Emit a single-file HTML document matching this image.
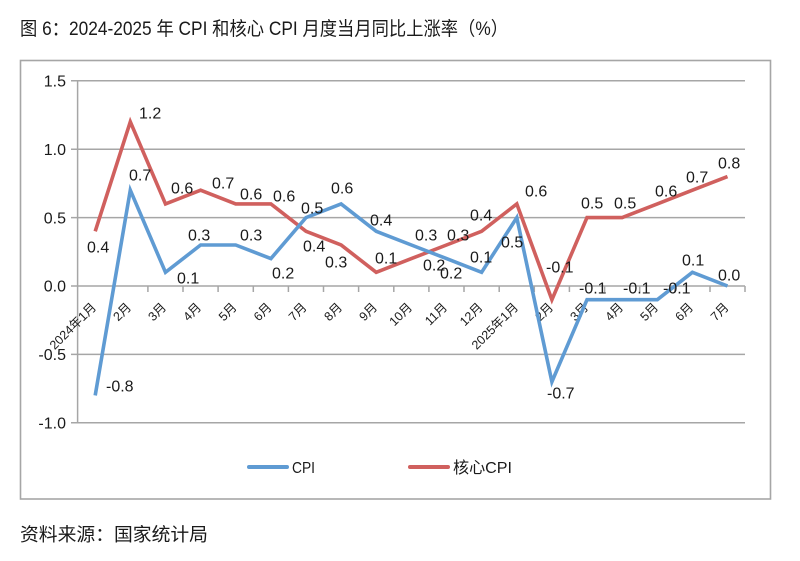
<!DOCTYPE html>
<html><head><meta charset="utf-8"><style>
html,body{margin:0;padding:0;background:#fff;}
svg{display:block;}
text{font-family:"Liberation Sans","Noto Sans CJK SC",sans-serif;fill:#1a1a1a;}
</style></head><body>
<svg width="800" height="561" viewBox="0 0 800 561" xmlns="http://www.w3.org/2000/svg">
<text x="20" y="35" font-size="19" textLength="488" lengthAdjust="spacingAndGlyphs">图 6：2024-2025 年 CPI 和核心 CPI 月度当月同比上涨率（%）</text>
<rect x="20.5" y="60.5" width="750" height="438.5" fill="none" stroke="#a6a6a6" stroke-width="1.6"/>
<g stroke="#a6a6a6" stroke-width="1.5">
<line x1="71" y1="80.8" x2="745" y2="80.8"/>
<line x1="71" y1="149.2" x2="745" y2="149.2"/>
<line x1="71" y1="217.6" x2="745" y2="217.6"/>
<line x1="71" y1="286" x2="745" y2="286"/>
<line x1="71" y1="354.4" x2="745" y2="354.4"/>
<line x1="71" y1="422.8" x2="745" y2="422.8"/>
<line x1="77.6" y1="80.8" x2="77.6" y2="422.8"/>
<line x1="112.7" y1="286" x2="112.7" y2="292"/><line x1="147.9" y1="286" x2="147.9" y2="292"/><line x1="183" y1="286" x2="183" y2="292"/><line x1="218.1" y1="286" x2="218.1" y2="292"/><line x1="253.3" y1="286" x2="253.3" y2="292"/><line x1="288.4" y1="286" x2="288.4" y2="292"/><line x1="323.5" y1="286" x2="323.5" y2="292"/><line x1="358.6" y1="286" x2="358.6" y2="292"/><line x1="393.8" y1="286" x2="393.8" y2="292"/><line x1="428.9" y1="286" x2="428.9" y2="292"/><line x1="464" y1="286" x2="464" y2="292"/><line x1="499.2" y1="286" x2="499.2" y2="292"/><line x1="534.3" y1="286" x2="534.3" y2="292"/><line x1="569.4" y1="286" x2="569.4" y2="292"/><line x1="604.6" y1="286" x2="604.6" y2="292"/><line x1="639.7" y1="286" x2="639.7" y2="292"/><line x1="674.8" y1="286" x2="674.8" y2="292"/><line x1="710" y1="286" x2="710" y2="292"/><line x1="745" y1="286" x2="745" y2="292"/>
</g>
<g font-size="16" text-anchor="end">
<text x="66" y="86.5">1.5</text>
<text x="66" y="154.9">1.0</text>
<text x="66" y="223.3">0.5</text>
<text x="66" y="291.7">0.0</text>
<text x="66" y="360.1">-0.5</text>
<text x="66" y="428.5">-1.0</text>
</g>
<g font-size="12.5" text-anchor="end">
<text transform="translate(97,308) rotate(-45)">2024年1月</text>
<text transform="translate(132,308) rotate(-45)">2月</text>
<text transform="translate(167,308) rotate(-45)">3月</text>
<text transform="translate(202,308) rotate(-45)">4月</text>
<text transform="translate(237.5,308) rotate(-45)">5月</text>
<text transform="translate(272.5,308) rotate(-45)">6月</text>
<text transform="translate(307.5,308) rotate(-45)">7月</text>
<text transform="translate(343,308) rotate(-45)">8月</text>
<text transform="translate(378,308) rotate(-45)">9月</text>
<text transform="translate(413,308) rotate(-45)">10月</text>
<text transform="translate(448,308) rotate(-45)">11月</text>
<text transform="translate(483.5,308) rotate(-45)">12月</text>
<text transform="translate(519,308) rotate(-45)">2025年1月</text>
<text transform="translate(554,308) rotate(-45)">2月</text>
<text transform="translate(589,308) rotate(-45)">3月</text>
<text transform="translate(624,308) rotate(-45)">4月</text>
<text transform="translate(659,308) rotate(-45)">5月</text>
<text transform="translate(694,308) rotate(-45)">6月</text>
<text transform="translate(729.5,308) rotate(-45)">7月</text>
</g>
<polyline fill="none" stroke="#d0605e" stroke-width="3.6" stroke-linejoin="miter" points="95.2,231.3 130.3,121.8 165.5,203.9 200.6,190.2 235.7,203.9 270.9,203.9 306,231.3 341.1,245 376.2,272.3 411.4,258.6 446.5,245 481.6,231.3 516.8,203.9 551.9,299.7 587,217.6 622.2,217.6 657.3,203.9 692.4,190.2 727.5,176.6"/>
<polyline fill="none" stroke="#5f9bd3" stroke-width="3.6" stroke-linejoin="miter" points="95.2,395.4 130.3,190.2 165.5,272.3 200.6,245 235.7,245 270.9,258.6 306,217.6 341.1,203.9 376.2,231.3 411.4,245 446.5,258.6 481.6,272.3 516.8,217.6 551.9,381.8 587,299.7 622.2,299.7 657.3,299.7 692.4,272.3 727.5,286"/>
<g font-size="16">
<text x="106" y="391.5">-0.8</text>
<text x="129" y="180.5">0.7</text>
<text x="177" y="283.5">0.1</text>
<text x="188" y="240.5">0.3</text>
<text x="240" y="240.5">0.3</text>
<text x="272" y="278.5">0.2</text>
<text x="301" y="213.5">0.5</text>
<text x="331" y="193.5">0.6</text>
<text x="370" y="225.5">0.4</text>
<text x="415" y="240.5">0.3</text>
<text x="440" y="278.5">0.2</text>
<text x="470" y="262.5">0.1</text>
<text x="501" y="247.5">0.5</text>
<text x="547" y="398.5">-0.7</text>
<text x="579" y="293.5">-0.1</text>
<text x="623" y="293.5">-0.1</text>
<text x="663" y="293.5">-0.1</text>
<text x="682" y="265.5">0.1</text>
<text x="718" y="280.5">0.0</text>
<text x="87" y="252.5">0.4</text>
<text x="139" y="118.5">1.2</text>
<text x="171" y="193.5">0.6</text>
<text x="212" y="188.5">0.7</text>
<text x="240" y="199.5">0.6</text>
<text x="273" y="201.5">0.6</text>
<text x="303" y="251.5">0.4</text>
<text x="325" y="267.5">0.3</text>
<text x="375" y="263.5">0.1</text>
<text x="423" y="270.5">0.2</text>
<text x="447" y="240.5">0.3</text>
<text x="470" y="220.5">0.4</text>
<text x="525" y="196.5">0.6</text>
<text x="546" y="272.5">-0.1</text>
<text x="581" y="208.5">0.5</text>
<text x="614" y="208.5">0.5</text>
<text x="655" y="196.5">0.6</text>
<text x="686" y="182.5">0.7</text>
<text x="718" y="168.5">0.8</text>
</g>
<line x1="249" y1="467" x2="287" y2="467" stroke="#5f9bd3" stroke-width="4" stroke-linecap="round"/>
<text x="292" y="473" font-size="16" textLength="23" lengthAdjust="spacingAndGlyphs">CPI</text>
<line x1="410" y1="467" x2="448" y2="467" stroke="#d0605e" stroke-width="4" stroke-linecap="round"/>
<text x="453" y="473" font-size="16" textLength="59" lengthAdjust="spacingAndGlyphs">核心CPI</text>
<text x="20" y="541" font-size="18.5" textLength="188" lengthAdjust="spacingAndGlyphs">资料来源：国家统计局</text>
</svg>
</body></html>
